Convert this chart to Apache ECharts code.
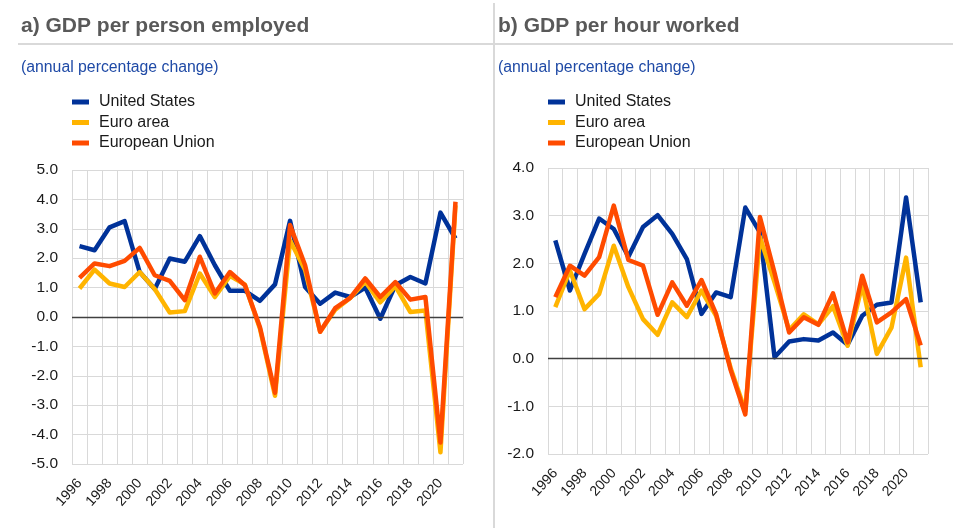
<!DOCTYPE html>
<html>
<head>
<meta charset="utf-8">
<script src="https://cdn.jsdelivr.net/npm/echarts@6/dist/echarts.min.js"></script>
<style>
html,body{margin:0;padding:0;background:#fff;}
#c{width:953px;height:528px;}
</style>
</head>
<body>
<div id="c"></div>
<script>
var years = ['1996','1997','1998','1999','2000','2001','2002','2003','2004','2005','2006','2007','2008','2009','2010','2011','2012','2013','2014','2015','2016','2017','2018','2019','2020','2021'];
var seriesNames = ['United States','Euro area','European Union'];

// a) GDP per person employed
var usPerson = [2.41,2.27,3.05,3.26,1.53,0.95,1.99,1.88,2.75,1.76,0.89,0.89,0.55,1.11,3.27,1.02,0.45,0.83,0.68,1.0,-0.06,1.08,1.36,1.14,3.55,2.67];
var eaPerson = [0.97,1.61,1.14,1.02,1.53,0.95,0.15,0.2,1.48,0.68,1.4,1.1,-0.4,-2.68,2.6,1.6,-0.5,0.25,0.65,1.2,0.5,1.05,0.17,0.22,-4.6,3.8];
var euPerson = [1.33,1.82,1.73,1.91,2.35,1.42,1.23,0.57,2.05,0.8,1.53,1.08,-0.35,-2.58,3.13,1.76,-0.5,0.3,0.65,1.31,0.68,1.19,0.59,0.68,-4.27,3.92];

// b) GDP per hour worked
var usHour = [2.48,1.43,2.2,2.94,2.72,2.14,2.76,3.01,2.62,2.09,0.94,1.39,1.29,3.17,2.65,0.03,0.36,0.41,0.38,0.55,0.29,0.9,1.13,1.18,3.38,1.18];
var eaHour = [1.08,1.85,1.04,1.36,2.37,1.5,0.83,0.5,1.18,0.87,1.43,0.9,-0.2,-1.1,2.55,1.6,0.6,0.93,0.72,1.1,0.27,1.55,0.1,0.65,2.12,-0.18];
var euHour = [1.29,1.95,1.74,2.13,3.21,2.07,1.95,0.92,1.6,1.11,1.65,0.94,-0.24,-1.17,2.97,1.8,0.55,0.87,0.71,1.37,0.34,1.74,0.76,0.97,1.25,0.28];

var yTicksA = {min:-5, max:5, interval:1};
var yTicksB = {min:-2, max:4, interval:1};

var colors = ['#003299','#FFB400','#FF4B00'];
var FONT = 'Liberation Sans, Arial, sans-serif';

function xAxis(gi){
  return {
    type:'category', gridIndex:gi, data:years, boundaryGap:true,
    axisLine:{show:false}, axisTick:{show:false},
    axisLabel:{interval:1, rotate:48, fontSize:14, color:'#1a1a1a', fontFamily:FONT, margin:17},
    splitLine:{show:true, interval:0, lineStyle:{color:'#d9d9d9', width:1}}
  };
}
function yAxis(gi, t){
  return {
    type:'value', gridIndex:gi, min:t.min, max:t.max, interval:t.interval,
    axisLine:{show:false}, axisTick:{show:false},
    axisLabel:{fontSize:15.5, color:'#1a1a1a', fontFamily:FONT, margin:14, formatter:function(v){return v.toFixed(1);}},
    splitLine:{show:true, lineStyle:{color:'#d9d9d9', width:1}}
  };
}
function lineSeries(name, data, gi, ci){
  return {
    name:name, type:'line', xAxisIndex:gi, yAxisIndex:gi, data:data,
    symbol:'none', smooth:false, z:3+ci,
    lineStyle:{color:colors[ci], width:4.5, join:'round'},
    itemStyle:{color:colors[ci]}
  };
}
function zeroSeries(gi){
  return {
    type:'line', xAxisIndex:gi, yAxisIndex:gi, data:[], z:2, silent:true,
    markLine:{silent:true, symbol:'none', label:{show:false},
      lineStyle:{color:'#404040', width:1.3, type:'solid'},
      data:[{yAxis:0}]}
  };
}
function legend(left){
  return {
    left:left, top:94, orient:'vertical', itemWidth:17, itemHeight:5, itemGap:4.5,
    icon:'rect', selectedMode:false, padding:0,
    textStyle:{fontSize:16, color:'#1a1a1a', fontFamily:FONT, lineHeight:16, padding:[0,0,0,5]},
    data:seriesNames
  };
}

var chart = echarts.init(document.getElementById('c'), null, {renderer:'canvas'});
chart.setOption({
  animation:false,
  backgroundColor:'#fff',
  color:colors,
  title:[
    {text:'a) GDP per person employed', left:21, top:16, padding:0, textStyle:{fontSize:21, fontWeight:'bold', color:'#595959', fontFamily:FONT}},
    {text:'b) GDP per hour worked', left:498, top:16, padding:0, textStyle:{fontSize:21, fontWeight:'bold', color:'#595959', fontFamily:FONT}},
    {text:'(annual percentage change)', left:21, top:60, padding:0, textStyle:{fontSize:15.8, fontWeight:'normal', color:'#1f4aa6', fontFamily:FONT}},
    {text:'(annual percentage change)', left:498, top:60, padding:0, textStyle:{fontSize:15.8, fontWeight:'normal', color:'#1f4aa6', fontFamily:FONT}}
  ],
  legend:[legend(72), legend(548)],
  grid:[
    {left:72, top:170, width:391, height:294},
    {left:548, top:168, width:380, height:286}
  ],
  xAxis:[xAxis(0), xAxis(1)],
  yAxis:[yAxis(0, yTicksA), yAxis(1, yTicksB)],
  graphic:[
    {type:'line', shape:{x1:18, y1:44, x2:953, y2:44}, style:{stroke:'#d9d9d9', lineWidth:2}, silent:true},
    {type:'line', shape:{x1:494, y1:3, x2:494, y2:528}, style:{stroke:'#d9d9d9', lineWidth:2}, silent:true}
  ],
  series:[
    zeroSeries(0), zeroSeries(1),
    lineSeries(seriesNames[0], usPerson, 0, 0),
    lineSeries(seriesNames[1], eaPerson, 0, 1),
    lineSeries(seriesNames[2], euPerson, 0, 2),
    lineSeries(seriesNames[0], usHour, 1, 0),
    lineSeries(seriesNames[1], eaHour, 1, 1),
    lineSeries(seriesNames[2], euHour, 1, 2)
  ]
});
</script>
</body>
</html>
